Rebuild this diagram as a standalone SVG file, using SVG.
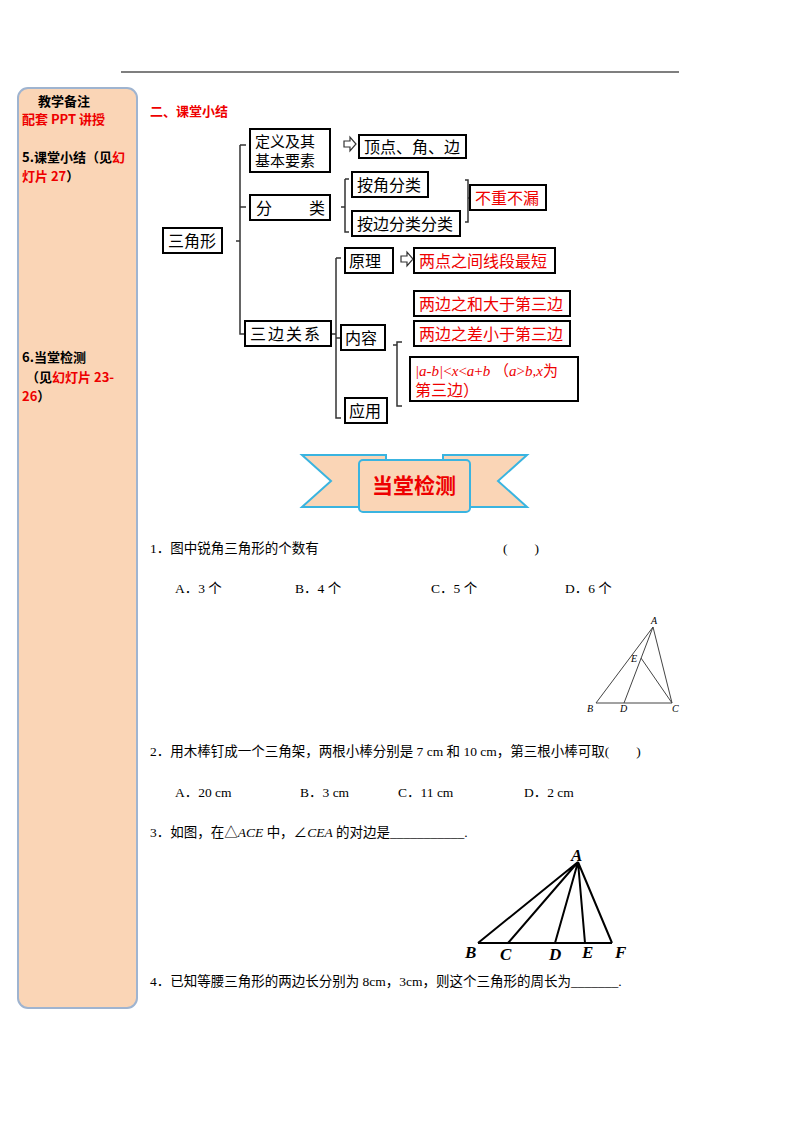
<svg xmlns="http://www.w3.org/2000/svg" width="800" height="1132" viewBox="0 0 800 1132">
<style>
text{font-family:"Noto Sans CJK SC","Liberation Sans",sans-serif;font-size:13px;fill:#000}
.b{font-weight:bold}.r{fill:#e00}
.box{fill:#fff;stroke:#000;stroke-width:2}
.ln{fill:none;stroke:#333;stroke-width:1.5}
.s{font-family:"Liberation Serif","Noto Sans CJK SC",serif;font-size:13.5px}
.i{font-style:italic}
.n{font-size:16px}
.t{font-family:"Liberation Serif",serif;font-style:italic;font-size:10px}
.t2{font-family:"Liberation Serif",serif;font-style:italic;font-weight:bold;font-size:17px}
</style>
<rect width="800" height="1132" fill="#fff"/>
<line x1="121" y1="72" x2="679" y2="72" stroke="#000" stroke-width="1.2"/>
<g id="side">
<rect x="18" y="88" width="119" height="920" rx="10" fill="#fad5b6" stroke="#9fb4d0" stroke-width="2"/>
<text x="38" y="106" class="b">教学备注</text>
<text x="22" y="124" class="b r">配套 PPT 讲授</text>
<text x="22" y="162" class="b">5.课堂小结（见<tspan class="r">幻</tspan></text>
<text x="22" y="181" class="b"><tspan class="r">灯片 27</tspan>）</text>
<text x="22" y="362" class="b">6.当堂检测</text>
<text x="26" y="382" class="b">（见<tspan class="r">幻灯片 23-</tspan></text>
<text x="22" y="401" class="b"><tspan class="r">26</tspan>）</text>
</g>
<text x="150" y="116" class="b r">二、课堂小结</text>
<g id="connectors">
<path class="ln" d="M236 241H240M240 145H246M240 145V334H246M240 207H246"/>
<path class="ln" d="M331 334H336M336 258H341V258M336 258V418H341M336 338H341"/>
<path class="ln" d="M341 207H345M345 179H349M345 179V232H349"/>
<path class="ln" d="M465 180H468V222H465M468 198H472"/>
<path class="ln" d="M402 342H397V406H402M397 345H393"/>
<path d="M344 141h6v-4l6 7-6 7v-4h-6z" fill="#fff" stroke="#333" stroke-width="1.2"/>
<path d="M401 256h6v-4l6 7-6 7v-4h-6z" fill="#fff" stroke="#333" stroke-width="1.2"/>
</g>
<g id="n1"><rect class="box" x="163" y="228" width="59" height="25"/><text x="168" y="247" class="n">三角形</text></g>
<g id="n2"><rect class="box" x="250" y="129" width="80" height="43"/><text x="255" y="147" style="font-size:15px">定义及其</text><text x="255" y="166" style="font-size:15px">基本要素</text></g>
<g id="n3"><rect class="box" x="359" y="135" width="107" height="23"/><text x="364" y="153" class="n">顶点、角、边</text></g>
<g id="n4"><rect class="box" x="250" y="195" width="80" height="25"/><text x="256" y="214" class="n">分</text><text x="309" y="214" class="n">类</text></g>
<g id="n5"><rect class="box" x="352" y="172" width="76" height="25"/><text x="357" y="191" class="n">按角分类</text></g>
<g id="n6"><rect class="box" x="352" y="211" width="108" height="25"/><text x="357" y="230" class="n">按边分类分类</text></g>
<g id="n7"><rect class="box" x="470" y="185" width="76" height="25"/><text x="475" y="204" class="n r">不重不漏</text></g>
<g id="n8"><rect class="box" x="345" y="248" width="48" height="25"/><text x="349" y="267" class="n">原理</text></g>
<g id="n9"><rect class="box" x="414" y="248" width="141" height="25"/><text x="419" y="267" class="n r">两点之间线段最短</text></g>
<g id="n10"><rect class="box" x="245" y="321" width="86" height="25"/><text x="250" y="340" class="n" letter-spacing="2">三边关系</text></g>
<g id="n11"><rect class="box" x="341" y="325" width="44" height="25"/><text x="345" y="344" class="n">内容</text></g>
<g id="n12"><rect class="box" x="414" y="291" width="156" height="25"/><text x="419" y="310" class="n r">两边之和大于第三边</text></g>
<g id="n13"><rect class="box" x="414" y="321" width="156" height="25"/><text x="419" y="340" class="n r">两边之差小于第三边</text></g>
<g id="n14"><rect class="box" x="410" y="357" width="168" height="44"/><text x="415" y="376" class="s r" style="font-size:15px"><tspan class="i">|a-b|</tspan>&lt;<tspan class="i">x</tspan>&lt;<tspan class="i">a</tspan>+<tspan class="i">b</tspan>  （<tspan class="i">a</tspan>&gt;<tspan class="i">b</tspan>,<tspan class="i">x</tspan>为</text><text x="415" y="396" class="n r">第三边）</text></g>
<g id="n15"><rect class="box" x="345" y="398" width="42" height="25"/><text x="349" y="417" class="n">应用</text></g>
<g id="banner">
<path d="M302 455H386V507H302L331 481Z" fill="#fad5b6" stroke="#3ab4e0" stroke-width="2"/>
<path d="M527 455H443V507H527L498 481Z" fill="#fad5b6" stroke="#3ab4e0" stroke-width="2"/>
<rect x="359" y="460" width="111" height="52" rx="4" fill="#fad5b6" stroke="#3ab4e0" stroke-width="2"/>
<text x="414" y="493" text-anchor="middle" class="b r" style="font-size:21px">当堂检测</text>
</g>
<g>
<text x="150" y="553" class="s">1．图中锐角三角形的个数有</text>
<text x="503" y="553" class="s">(　　)</text>
<text x="175" y="593" class="s">A．3 个</text><text x="295" y="593" class="s">B．4 个</text><text x="431" y="593" class="s">C．5 个</text><text x="565" y="593" class="s">D．6 个</text>
<text x="150" y="756" class="s">2．用木棒钉成一个三角架，两根小棒分别是 7 cm 和 10 cm，第三根小棒可取(　　)</text>
<text x="175" y="797" class="s">A．20 cm</text><text x="300" y="797" class="s">B．3 cm</text><text x="398" y="797" class="s">C．11 cm</text><text x="524" y="797" class="s">D．2 cm</text>
<text x="150" y="837" class="s">3．如图，在△<tspan class="i">ACE</tspan> 中，∠<tspan class="i">CEA</tspan> 的对边是___________.</text>
<text x="150" y="986" class="s">4．已知等腰三角形的两边长分别为 8cm，3cm，则这个三角形的周长为_______.</text>
</g>
<g id="fig1" fill="none" stroke="#444" stroke-width="1">
<path d="M653 627L596 703H672Z M653 627L624 703 M641 658L672 703"/>
</g>
<g>
<text x="651" y="624" class="t">A</text><text x="631" y="662" class="t">E</text>
<text x="587" y="712" class="t">B</text><text x="620" y="712" class="t">D</text><text x="672" y="712" class="t">C</text>
</g>
<g id="fig2" fill="none" stroke="#000" stroke-width="2">
<path d="M478 943H612 M578 862L478 943M578 862L508 943M578 862L555 943M578 862L585 943M578 862L612 943"/>
</g>
<g>
<text x="571" y="861" class="t2">A</text><text x="465" y="958" class="t2">B</text><text x="500" y="960" class="t2">C</text><text x="549" y="960" class="t2">D</text><text x="582" y="958" class="t2">E</text><text x="615" y="958" class="t2">F</text>
</g>
</svg>
